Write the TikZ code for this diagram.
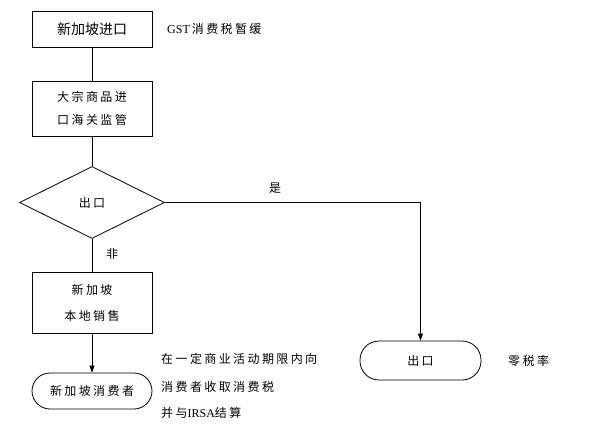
\documentclass[tikz,border=0pt]{standalone}
\usepackage{fontspec}
\setmainfont{Liberation Serif}
\newfontfamily\cjk{Noto Sans CJK SC}
\newfontfamily\cjks{Noto Sans CJK SC}[LetterSpace=20]
\usetikzlibrary{shapes.geometric,arrows.meta}
\begin{document}
\begin{tikzpicture}[x=1pt,y=-1pt,
  every node/.style={font=\cjks\fontsize{12}{14}\selectfont, inner sep=0pt},
  boxnode/.style={draw, line width=0.8pt, minimum width=120pt, align=center},
  termnode/.style={draw, line width=0.8pt, rounded corners=18pt, minimum width=120pt, minimum height=36pt},
  decnode/.style={draw, line width=0.8pt, shape=diamond, minimum width=145pt, minimum height=72pt},
  conn/.style={line width=0.8pt},
  arr/.style={line width=0.8pt, -{Triangle[length=7pt,width=5pt]}},
  note/.style={anchor=base west}]
\useasboundingbox (0,0) rectangle (605,425);
\node[boxnode, minimum height=36pt, font=\cjk\fontsize{14}{16}\selectfont] (b1) at (92,29) {新加坡进口};
\node[boxnode, minimum height=55pt] (b2) at (92,108.5) {大宗商品进\\[9pt]口海关监管};
\node[decnode] (d) at (92,202.5) {出口};
\node[boxnode, minimum height=61pt] (b3) at (92,302.5) {新加坡\\[12pt]本地销售};
\node[termnode] (t1) at (92,391) {新加坡消费者};
\node[termnode, minimum width=121pt, minimum height=39pt, rounded corners=19pt] (t2) at (420.5,360.5) {出口};
\draw[conn] (b1) -- (b2);
\draw[conn] (b2) -- (d);
\draw[conn] (d) -- (b3);
\draw[arr] (b3) -- (t1);
\draw[arr] (d.east) -| (t2.north);
\node[note] (yes) at (269,193) {是};
\node[note] (no) at (106,258) {非};
\node[note] (gst) at (167,34) {{\rmfamily\fontsize{12}{14}\selectfont GST\,}消费税暂缓};
\node[note] (n1) at (161,363.5) {在一定商业活动期限内向};
\node[note] (n2) at (161,391.5) {消费者收取消费税};
\node[note] (n3) at (161,417.5) {并与{\rmfamily\fontsize{12}{14}\selectfont IRSA}结算};
\node[note] (zero) at (508,365.5) {零税率};
\end{tikzpicture}
\end{document}
